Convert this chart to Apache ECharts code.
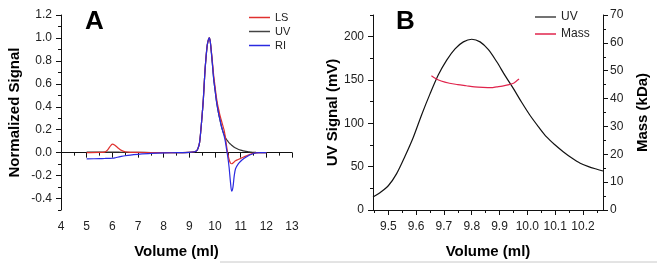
<!DOCTYPE html>
<html>
<head>
<meta charset="utf-8">
<script src="https://cdn.jsdelivr.net/npm/echarts@6/dist/echarts.min.js"></script>
<style>
  html, body { margin: 0; padding: 0; background: #fff; }
  #chart { width: 657px; height: 264px; }
</style>
</head>
<body>
<div id="chart"></div>
<script>
// Panel A: normalized detector signals vs elution volume
const volA = [5.0, 5.5, 5.7, 5.8, 5.9, 6.0, 6.1, 6.2, 6.35, 6.5, 6.7, 7.0, 7.5, 8.0, 8.5, 9.0, 9.2, 9.3, 9.35, 9.4,
  9.45, 9.5, 9.55, 9.6, 9.65, 9.7, 9.75, 9.78, 9.82, 9.86, 9.9, 9.95, 10.0, 10.05, 10.1, 10.15, 10.2, 10.25, 10.3, 10.35,
  10.4, 10.45, 10.5, 10.55, 10.6, 10.65, 10.7, 10.75, 10.8, 10.9, 11.0, 11.1, 11.2, 11.3, 11.4, 11.5, 11.6, 11.8, 12.0]
const lsA = [0.0, 0.002, 0.005, 0.02, 0.05, 0.075, 0.065, 0.045, 0.02, 0.008, 0.003, 0.002, 0.001, 0.0, 0.0, 0.003, 0.008, 0.02, 0.045, 0.09,
  0.2, 0.33, 0.48, 0.68, 0.83, 0.94, 0.99, 1.0, 0.96, 0.88, 0.79, 0.67, 0.58, 0.49, 0.42, 0.37, 0.32, 0.28, 0.24, 0.2,
  0.14, 0.06, -0.01, -0.06, -0.09, -0.097, -0.09, -0.08, -0.07, -0.06, -0.05, -0.04, -0.03, -0.02, -0.012, -0.005, -0.002, 0.0, 0.0]
const uvA = [0.005, 0.005, 0.005, 0.005, 0.005, 0.005, 0.005, 0.004, 0.003, 0.003, 0.002, 0.002, 0.001, 0.0, 0.0, 0.003, 0.008, 0.02, 0.045, 0.09,
  0.2, 0.33, 0.48, 0.68, 0.83, 0.94, 0.99, 1.0, 0.96, 0.87, 0.77, 0.64, 0.55, 0.46, 0.39, 0.33, 0.28, 0.23, 0.19, 0.16,
  0.135, 0.115, 0.1, 0.085, 0.075, 0.065, 0.055, 0.047, 0.04, 0.03, 0.022, 0.016, 0.011, 0.008, 0.005, 0.003, 0.002, 0.001, 0.0]
const riA = [-0.055, -0.052, -0.051, -0.05, -0.05, -0.049, -0.046, -0.04, -0.033, -0.027, -0.021, -0.015, -0.007, -0.002, 0.0, 0.003, 0.008, 0.02, 0.045, 0.09,
  0.2, 0.33, 0.48, 0.68, 0.83, 0.94, 0.99, 1.0, 0.96, 0.87, 0.77, 0.64, 0.55, 0.46, 0.39, 0.33, 0.28, 0.23, 0.19, 0.15,
  0.1, 0.03, -0.04, -0.13, -0.25, -0.335, -0.3, -0.2, -0.14, -0.1, -0.075, -0.055, -0.04, -0.027, -0.016, -0.007, -0.002, 0.0, 0.0]

// Panel B: UV signal (mV) and molar mass (kDa) across the peak
const volUvB = [9.445, 9.47, 9.5, 9.53, 9.56, 9.59, 9.62, 9.65, 9.68, 9.71, 9.74, 9.77, 9.8, 9.83, 9.86, 9.89, 9.92, 9.95, 9.98,
  10.01, 10.04, 10.07, 10.1, 10.13, 10.16, 10.19, 10.22, 10.25, 10.272]
const uvB = [15, 20, 28, 42, 62, 84, 110, 134, 156, 173, 186, 194, 197, 194, 185, 171, 155, 140, 124,
  109, 96, 84, 75, 67, 60, 54, 50, 47, 45]
const volMassB = [9.655, 9.67, 9.69, 9.72, 9.75, 9.78, 9.81, 9.84, 9.87, 9.89, 9.91, 9.93, 9.95, 9.96, 9.97]
const massB = [48.2, 47.2, 46.3, 45.5, 45.0, 44.6, 44.2, 44.0, 43.9, 44.2, 44.5, 44.9, 45.5, 46.2, 47.0]

const labelsAy = [-0.4, -0.2, 0, 0.2, 0.4, 0.6, 0.8, 1.0, 1.2]
const minorAy = [-0.5, -0.3, -0.1, 0.1, 0.3, 0.5, 0.7, 0.9, 1.1]
const labelsBx = [9.5, 9.6, 9.7, 9.8, 9.9, 10.0, 10.1, 10.2]
const minorBx = [9.45, 9.55, 9.65, 9.75, 9.85, 9.95, 10.05, 10.15, 10.25]
const labelsBy = [0, 50, 100, 150, 200]
const minorBy = [25, 75, 125, 175, 225]

const pairs = (xs, ys) => xs.map((x, i) => [x, ys[i]])

const font = 'Liberation Sans, Arial, sans-serif'
const lineCol = '#111'
const tickLabel = { color: '#222', fontSize: 12, fontFamily: font }
const axisName = { color: '#000', fontSize: 15, fontWeight: 'bold', fontFamily: font }
const axisLine = { show: true, lineStyle: { color: lineCol, width: 1 } }

const chart = echarts.init(document.getElementById('chart'))

const option = {
  animation: false,
  backgroundColor: '#fff',
  grid: [
    { left: 61, top: 15, width: 231, height: 197 },
    { left: 373, top: 15, width: 230, height: 198 }
  ],
  legend: [
    {
      data: ['LS', 'UV', 'RI'],
      orient: 'vertical',
      left: 244,
      top: 6,
      icon: 'rect',
      itemWidth: 21,
      itemHeight: 1.5,
      itemGap: 1,
      textStyle: { fontSize: 11, color: '#222', fontFamily: font, lineHeight: 13 }
    },
    {
      data: ['UV', 'Mass'],
      orient: 'vertical',
      left: 530,
      top: 5,
      icon: 'rect',
      itemWidth: 21,
      itemHeight: 1.5,
      itemGap: 3,
      textStyle: { fontSize: 12, color: '#222', fontFamily: font, lineHeight: 14 }
    }
  ],
  xAxis: [
    {
      gridIndex: 0, type: 'value', min: 4, max: 13, interval: 1,
      name: 'Volume (ml)', nameLocation: 'middle', nameGap: 34, nameTextStyle: axisName,
      axisLine, splitLine: { show: false },
      axisTick: { length: 5, lineStyle: { color: lineCol } },
      minorTick: { show: true, splitNumber: 2, length: 3, lineStyle: { color: lineCol } },
      axisLabel: { ...tickLabel, margin: 11 }
    },
    {
      gridIndex: 1, type: 'value', min: 9.445, max: 10.272,
      name: 'Volume (ml)', nameLocation: 'middle', nameGap: 34, nameTextStyle: axisName,
      axisLine, splitLine: { show: false },
      axisTick: { length: 5, customValues: labelsBx, lineStyle: { color: lineCol } },
      axisLabel: { ...tickLabel, margin: 11, customValues: labelsBx, formatter: v => v.toFixed(1) }
    },
    {
      // minor ticks for panel B volume axis
      gridIndex: 1, type: 'value', min: 9.445, max: 10.272, position: 'bottom',
      axisLine: { show: false }, splitLine: { show: false }, axisLabel: { show: false },
      axisTick: { length: 3, customValues: minorBx, lineStyle: { color: lineCol } }
    }
  ],
  yAxis: [
    {
      gridIndex: 0, type: 'value', min: -0.5, max: 1.2, interval: 0.1,
      name: 'Normalized Signal', nameLocation: 'middle', nameGap: 39, nameTextStyle: axisName,
      axisLine, splitLine: { show: false },
      axisTick: { length: 5, customValues: labelsAy, lineStyle: { color: lineCol } },
      axisLabel: { ...tickLabel, margin: 9, customValues: labelsAy, formatter: v => v.toFixed(1) }
    },
    {
      // minor ticks for panel A signal axis
      gridIndex: 0, type: 'value', min: -0.5, max: 1.2, position: 'left',
      axisLine: { show: false }, splitLine: { show: false }, axisLabel: { show: false },
      axisTick: { length: 3, customValues: minorAy, lineStyle: { color: lineCol } }
    },
    {
      gridIndex: 1, type: 'value', min: 0, max: 225, position: 'left',
      name: 'UV Signal (mV)', nameLocation: 'middle', nameGap: 33, nameTextStyle: axisName,
      axisLine, splitLine: { show: false },
      axisTick: { length: 5, customValues: labelsBy, lineStyle: { color: lineCol } },
      axisLabel: { ...tickLabel, margin: 9, customValues: labelsBy }
    },
    {
      gridIndex: 1, type: 'value', min: 0, max: 225, position: 'left',
      axisLine: { show: false }, splitLine: { show: false }, axisLabel: { show: false },
      axisTick: { length: 3, customValues: minorBy, lineStyle: { color: lineCol } }
    },
    {
      gridIndex: 1, type: 'value', min: 0, max: 70, interval: 10, position: 'right',
      name: 'Mass (kDa)', nameLocation: 'middle', nameGap: 32, nameRotate: 90, nameTextStyle: axisName,
      axisLine, splitLine: { show: false },
      axisTick: { length: 5, lineStyle: { color: lineCol } },
      minorTick: { show: true, splitNumber: 2, length: 3, lineStyle: { color: lineCol } },
      axisLabel: { ...tickLabel, margin: 7 }
    }
  ],
  series: [
    {
      name: 'LS', type: 'line', xAxisIndex: 0, yAxisIndex: 0, showSymbol: false, symbol: 'none', smooth: 0.3,
      data: pairs(volA, lsA), lineStyle: { color: '#e0302e', width: 1.2 }, itemStyle: { color: '#e0302e' }, z: 3
    },
    {
      name: 'UV', type: 'line', xAxisIndex: 0, yAxisIndex: 0, showSymbol: false, symbol: 'none', smooth: 0.3,
      data: pairs(volA, uvA), lineStyle: { color: '#333', width: 1.2 }, itemStyle: { color: '#444' }, z: 2
    },
    {
      name: 'RI', type: 'line', xAxisIndex: 0, yAxisIndex: 0, showSymbol: false, symbol: 'none', smooth: 0.3,
      data: pairs(volA, riA), lineStyle: { color: '#2a2ae0', width: 1.2 }, itemStyle: { color: '#2a2ae0' }, z: 4
    },
    {
      name: 'UV', type: 'line', xAxisIndex: 1, yAxisIndex: 2, showSymbol: false, symbol: 'none', smooth: 0.3,
      data: pairs(volUvB, uvB), lineStyle: { color: '#111', width: 1.2 }, itemStyle: { color: '#444' }
    },
    {
      name: 'Mass', type: 'line', xAxisIndex: 1, yAxisIndex: 4, showSymbol: false, symbol: 'none', smooth: 0.3,
      data: pairs(volMassB, massB), lineStyle: { color: '#e0244c', width: 1.2 }, itemStyle: { color: '#e0244c' }
    }
  ],
  graphic: [
    { type: 'text', left: 85, top: 9, style: { text: 'A', fontSize: 26, fontWeight: 'bold', fontFamily: font, fill: '#000' } },
    { type: 'text', left: 396, top: 9, style: { text: 'B', fontSize: 26, fontWeight: 'bold', fontFamily: font, fill: '#000' } },
    { type: 'line', shape: { x1: 220, y1: 262, x2: 657, y2: 262 }, style: { stroke: '#c8c8c8', lineWidth: 1 } }
  ]
}

chart.setOption(option)
</script>
</body>
</html>
